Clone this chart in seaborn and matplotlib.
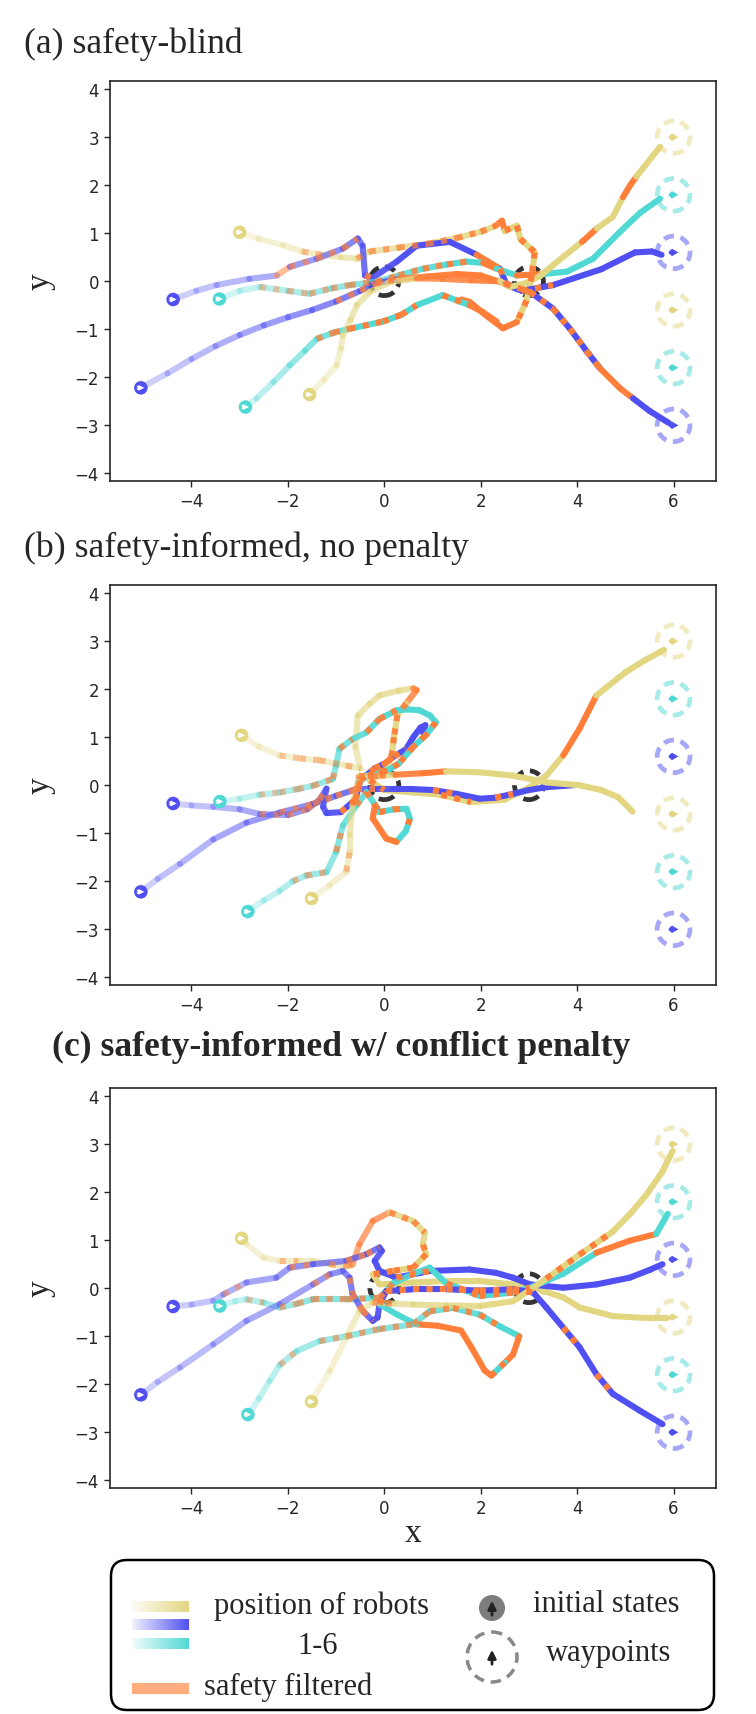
import numpy as np
import matplotlib
matplotlib.use("Agg")
import matplotlib.pyplot as plt
import seaborn as sns
from matplotlib.collections import LineCollection
from matplotlib.colors import to_rgba
from matplotlib.patches import Circle, FancyBboxPatch

# colours of the three robot types and of the safety filter
YELLOW = "#E3D681"
BLUE = "#5050F2"
CYAN = "#50D9D4"
ORANGE = "#FF7F3A"
DARK = "#333333"

# goal waypoints (x = 6) and the two shared waypoints
goal_y = [3.0, 1.8, 0.6, -0.6, -1.8, -3.0]
goal_colors = [YELLOW, CYAN, BLUE, YELLOW, CYAN, BLUE]
mid_x = [0.0, 3.0]
mid_y = [0.0, 0.0]

titles = ["(a) safety-blind", "(b) safety-informed, no penalty",
          "(c) safety-informed w/ conflict penalty"]

# trajectories: (x, y, filter) ; filter 0 = own colour, 1 = safety filtered, 2 = switching
# ---- (a) safety-blind
a_y1 = [(-3.0, 1.02, 0), (-2.6, 0.88, 0), (-2.1, 0.75, 0), (-1.7, 0.62, 2), (-1.3, 0.55, 0),
        (-0.9, 0.5, 0), (-0.57, 0.47, 2), (-0.3, 0.62, 2), (0.3, 0.7, 2), (0.9, 0.78, 2),
        (1.5, 0.9, 2), (2.0, 1.03, 2), (2.3, 1.15, 1), (2.44, 1.26, 1), (2.5, 1.05, 2),
        (2.75, 1.16, 2), (2.82, 0.88, 2), (3.02, 0.7, 2), (3.12, 0.6, 2), (3.06, 0.12, 2),
        (2.95, -0.4, 2), (2.75, -0.85, 1), (2.46, -0.98, 1), (2.12, -0.72, 1),
        (1.77, -0.43, 1), (1.6, -0.38, 1)]
a_b1 = [(-4.38, -0.38, 0), (-3.9, -0.2, 0), (-3.48, -0.08, 0), (-2.8, 0.05, 0),
        (-2.23, 0.12, 1), (-1.96, 0.3, 2), (-1.4, 0.47, 2), (-0.86, 0.68, 2), (-0.55, 0.89, 0),
        (-0.45, 0.74, 0), (-0.4, 0.12, 2), (-0.26, 0.06, 0), (0.26, 0.41, 0), (0.67, 0.74, 0),
        (1.36, 0.82, 0), (1.92, 0.55, 1), (2.4, 0.26, 2), (2.54, -0.08, 0), (2.85, -0.2, 2),
        (3.5, -0.08, 0), (4.5, 0.25, 0), (5.2, 0.6, 0), (5.55, 0.62, 0), (5.75, 0.55, 0)]
a_c1 = [(-3.42, -0.37, 0), (-3.0, -0.2, 0), (-2.58, -0.12, 2), (-2.0, -0.2, 2),
        (-1.55, -0.26, 2), (-1.1, -0.15, 2), (-0.72, -0.08, 2), (-0.16, -0.01, 2),
        (0.3, 0.12, 2), (0.8, 0.26, 2), (1.3, 0.35, 2), (1.71, 0.41, 0), (2.05, 0.38, 1),
        (2.33, 0.26, 0), (2.75, 0.12, 1), (3.3, 0.15, 0), (3.79, 0.2, 0), (4.33, 0.47, 0),
        (4.89, 1.03, 0), (5.3, 1.42, 0), (5.72, 1.72, 0)]
a_b2 = [(-5.05, -2.22, 0), (-4.5, -1.92, 0), (-4.0, -1.62, 0), (-3.5, -1.35, 0),
        (-3.0, -1.12, 0), (-2.5, -0.92, 0), (-2.0, -0.75, 0), (-1.5, -0.6, 0), (-1.0, -0.42, 2),
        (-0.5, -0.2, 2), (-0.2, -0.05, 2), (0.3, 0.05, 1), (0.9, 0.1, 1), (1.5, 0.15, 1),
        (2.0, 0.12, 1), (2.5, -0.05, 2), (3.02, -0.22, 2), (3.5, -0.57, 2), (3.85, -0.99, 2),
        (4.2, -1.46, 2), (4.47, -1.81, 1), (4.89, -2.23, 1), (5.16, -2.44, 0),
        (5.5, -2.7, 0), (5.9, -2.95, 0)]
a_c2 = [(-2.88, -2.62, 0), (-2.65, -2.44, 0), (-2.3, -2.1, 0), (-1.96, -1.75, 0),
        (-1.65, -1.45, 0), (-1.4, -1.2, 2), (-1.05, -1.07, 2), (-0.72, -0.99, 2),
        (-0.03, -0.84, 2), (0.35, -0.7, 2), (0.67, -0.5, 0), (1.21, -0.29, 2),
        (1.77, -0.5, 1), (2.04, -0.64, 1), (2.33, -0.84, 1)]
a_y2 = [(-1.55, -2.36, 0), (-1.25, -2.05, 0), (-0.99, -1.75, 0), (-0.9, -1.4, 0),
        (-0.86, -1.13, 0), (-0.7, -0.8, 0), (-0.57, -0.5, 0), (-0.3, -0.22, 0), (0.1, -0.02, 0),
        (0.67, 0.06, 1), (1.2, 0.05, 1), (1.8, 0.02, 1), (2.4, 0.0, 0), (2.6, -0.12, 0),
        (2.9, -0.05, 0), (3.22, 0.1, 0), (3.7, 0.5, 0), (4.1, 0.82, 1), (4.41, 1.1, 0),
        (4.74, 1.34, 0), (4.95, 1.75, 1), (5.1, 2.0, 1), (5.23, 2.18, 0), (5.72, 2.8, 0)]

# ---- (b) safety-informed, no penalty
b_y1 = [(-2.96, 1.04, 0), (-2.6, 0.8, 0), (-2.17, 0.62, 2), (-1.75, 0.56, 2), (-1.34, 0.52, 2),
        (-0.79, 0.41, 2), (-0.5, 0.35, 0), (-0.6, 0.8, 0), (-0.55, 1.45, 0), (-0.3, 1.7, 0),
        (-0.1, 1.87, 0), (0.3, 1.97, 0), (0.6, 2.02, 1), (0.67, 1.98, 1), (0.45, 1.7, 2),
        (0.27, 1.46, 2), (0.2, 1.0, 2), (0.15, 0.6, 2), (0.0, 0.3, 2), (-0.3, 0.1, 2),
        (0.0, -0.1, 0), (0.6, -0.15, 0), (1.18, -0.2, 2), (1.8, -0.35, 0), (2.5, -0.3, 0),
        (3.0, -0.05, 0), (3.36, 0.2, 0), (3.71, 0.62, 1), (4.05, 1.18, 1), (4.4, 1.87, 0),
        (5.0, 2.35, 0), (5.4, 2.6, 0), (5.8, 2.82, 0)]
b_b1 = [(-4.38, -0.38, 0), (-4.0, -0.42, 0), (-3.55, -0.45, 0), (-3.0, -0.5, 0),
        (-2.58, -0.6, 2), (-2.0, -0.62, 2), (-1.6, -0.5, 2), (-1.34, -0.3, 2), (-1.2, -0.07, 0),
        (-1.27, -0.45, 0), (-1.2, -0.58, 0), (-0.9, -0.56, 2), (-0.6, -0.3, 2), (-0.5, 0.1, 2),
        (-0.2, 0.35, 2), (0.0, 0.45, 1), (0.2, 0.6, 2), (0.45, 0.75, 0), (0.6, 1.0, 0),
        (0.75, 1.2, 0), (0.85, 1.25, 0), (0.8, 1.1, 0)]
b_c1 = [(-3.41, -0.34, 0), (-3.0, -0.28, 0), (-2.6, -0.2, 2), (-2.17, -0.15, 2),
        (-1.8, -0.08, 2), (-1.48, -0.01, 2), (-1.07, 0.13, 2), (-1.0, 0.41, 0), (-0.93, 0.76, 2),
        (-0.66, 0.96, 0), (-0.37, 1.1, 2), (-0.1, 1.38, 2), (0.25, 1.56, 0), (0.5, 1.58, 0),
        (0.73, 1.56, 0), (0.95, 1.45, 0), (1.07, 1.31, 2), (0.86, 1.04, 2), (0.6, 0.8, 2),
        (0.3, 0.45, 2), (0.05, 0.3, 2), (-0.35, 0.2, 0), (-0.55, 0.05, 0)]
b_b2 = [(-5.05, -2.22, 0), (-4.7, -1.95, 0), (-4.24, -1.64, 0), (-3.55, -1.13, 0),
        (-2.86, -0.78, 0), (-2.17, -0.57, 2), (-1.48, -0.39, 2), (-1.0, -0.22, 2),
        (-0.58, -0.08, 2), (-0.2, -0.08, 0), (0.18, -0.08, 0), (0.6, -0.08, 0), (1.01, -0.1, 2),
        (1.5, -0.18, 0), (1.98, -0.28, 0), (2.3, -0.26, 2), (2.67, -0.18, 0), (3.0, -0.1, 0),
        (3.36, -0.04, 0), (3.91, 0.0, 0)]
b_c2 = [(-2.83, -2.63, 0), (-2.5, -2.4, 0), (-2.17, -2.2, 0), (-1.9, -2.0, 2),
        (-1.62, -1.88, 2), (-1.2, -1.81, 0), (-1.0, -1.39, 2), (-0.86, -0.84, 0),
        (-0.58, -0.42, 2), (-0.37, -0.14, 2), (-0.2, -0.4, 2), (-0.1, -0.56, 2), (0.2, -0.5, 2),
        (0.46, -0.49, 0), (0.53, -0.7, 2), (0.45, -0.95, 0), (0.25, -1.18, 1), (0.04, -1.11, 1),
        (-0.1, -0.9, 1), (-0.24, -0.69, 1), (-0.2, -0.45, 2)]
b_y2 = [(-1.51, -2.36, 0), (-1.13, -2.08, 0), (-0.79, -1.8, 2), (-0.72, -1.4, 0),
        (-0.72, -1.04, 0), (-0.66, -0.42, 2), (-0.52, 0.2, 2), (-0.1, 0.2, 2), (0.25, 0.22, 1),
        (0.8, 0.25, 1), (1.28, 0.29, 0), (1.98, 0.27, 0), (2.67, 0.2, 0), (3.36, 0.06, 0),
        (4.05, 0.0, 0), (4.5, -0.1, 0), (4.85, -0.25, 0), (5.15, -0.55, 0)]

# ---- (c) safety-informed w/ conflict penalty
c_y1 = [(-2.96, 1.04, 0), (-2.86, 0.92, 0), (-2.51, 0.64, 0), (-2.17, 0.57, 2), (-1.8, 0.57, 0),
        (-1.48, 0.57, 0), (-1.13, 0.5, 2), (-0.79, 0.46, 2), (-0.66, 0.49, 1), (-0.52, 0.91, 1),
        (-0.24, 1.4, 1), (0.11, 1.58, 2), (0.6, 1.4, 2), (0.84, 1.16, 0), (0.8, 0.91, 2),
        (0.87, 0.71, 2), (0.6, 0.43, 2), (0.18, 0.36, 2), (-0.24, 0.29, 0), (-0.1, 0.08, 0),
        (0.6, 0.12, 0), (1.29, 0.15, 0), (1.98, 0.15, 0), (2.67, 0.08, 0), (3.09, 0.01, 0),
        (3.71, -0.19, 0), (4.05, -0.4, 0), (4.74, -0.58, 0), (5.43, -0.62, 0), (5.87, -0.62, 0)]
c_b1 = [(-4.38, -0.38, 0), (-4.0, -0.34, 0), (-3.55, -0.26, 0), (-3.34, -0.13, 2),
        (-2.86, 0.12, 0), (-2.24, 0.22, 0), (-1.96, 0.43, 2), (-1.48, 0.5, 0), (-0.79, 0.57, 2),
        (-0.37, 0.71, 2), (-0.1, 0.85, 0), (-0.05, 0.78, 0), (-0.2, 0.57, 0), (-0.1, 0.36, 0),
        (0.25, 0.22, 2), (0.94, 0.36, 0), (1.77, 0.39, 0), (2.32, 0.32, 0), (2.67, 0.22, 0),
        (3.02, 0.08, 0), (3.71, 0.01, 0), (4.4, 0.08, 0), (5.09, 0.22, 0), (5.5, 0.38, 0),
        (5.77, 0.5, 0)]
c_c1 = [(-3.41, -0.37, 0), (-3.1, -0.27, 0), (-2.86, -0.23, 2), (-2.5, -0.3, 0),
        (-2.17, -0.4, 2), (-1.8, -0.32, 2), (-1.48, -0.23, 2), (-0.79, -0.23, 2),
        (-0.1, -0.2, 2), (0.18, 0.1, 0), (0.6, 0.3, 0), (0.94, 0.43, 0), (1.29, 0.1, 2),
        (1.98, -0.16, 2), (2.67, -0.09, 2), (3.02, 0.01, 0), (3.71, 0.3, 0), (4.4, 0.74, 1),
        (5.09, 0.99, 1), (5.64, 1.13, 0), (5.88, 1.55, 0)]
c_b2 = [(-5.05, -2.22, 0), (-4.7, -1.95, 0), (-4.24, -1.65, 0), (-3.55, -1.17, 0),
        (-2.86, -0.68, 0), (-2.17, -0.33, 0), (-1.48, 0.08, 2), (-1.13, 0.29, 0),
        (-0.86, 0.36, 0), (-0.72, 0.22, 2), (-0.66, -0.12, 2), (-0.45, -0.47, 2),
        (-0.24, -0.68, 0), (-0.14, -0.61, 0), (-0.1, -0.33, 2), (0.04, -0.06, 2),
        (0.6, -0.02, 2), (1.29, -0.02, 2), (1.98, -0.05, 2), (2.67, -0.02, 2), (3.09, -0.09, 0),
        (3.36, -0.4, 0), (3.71, -0.82, 2), (4.05, -1.23, 0), (4.4, -1.79, 2), (4.74, -2.2, 0),
        (5.3, -2.55, 0), (5.77, -2.83, 0)]
c_c2 = [(-2.83, -2.63, 0), (-2.6, -2.3, 0), (-2.38, -1.93, 0), (-2.17, -1.6, 2),
        (-1.82, -1.31, 0), (-1.34, -1.1, 2), (-0.79, -1.0, 2), (-0.1, -0.85, 2), (0.6, -0.75, 2),
        (0.94, -0.48, 2), (1.42, -0.41, 2), (1.98, -0.55, 2), (2.39, -0.79, 0), (2.8, -1.0, 1),
        (2.67, -1.38, 1), (2.5, -1.55, 2), (2.22, -1.82, 1), (2.08, -1.71, 1), (1.8, -1.22, 1),
        (1.59, -0.88, 1), (1.1, -0.78, 1), (0.66, -0.75, 0), (0.25, -0.54, 0), (-0.1, -0.33, 0)]
c_y2 = [(-1.51, -2.36, 0), (-1.13, -1.72, 0), (-0.79, -1.03, 0), (-0.52, -0.48, 0),
        (-0.25, -0.3, 2), (0.2, -0.32, 0), (0.6, -0.34, 0), (1.3, -0.36, 0), (1.98, -0.37, 0),
        (2.67, -0.27, 0), (3.0, -0.05, 0), (3.36, 0.2, 2), (4.05, 0.7, 2), (4.74, 1.18, 0),
        (5.1, 1.55, 0), (5.43, 1.94, 0), (5.77, 2.43, 0), (5.98, 2.86, 0)]

panels = [
    [(a_y1, YELLOW), (a_b1, BLUE), (a_c1, CYAN), (a_b2, BLUE), (a_c2, CYAN), (a_y2, YELLOW)],
    [(b_y1, YELLOW), (b_b1, BLUE), (b_c1, CYAN), (b_b2, BLUE), (b_c2, CYAN), (b_y2, YELLOW)],
    [(c_y1, YELLOW), (c_b1, BLUE), (c_c1, CYAN), (c_b2, BLUE), (c_c2, CYAN), (c_y2, YELLOW)],
]

sns.set_style("ticks")
plt.rcParams["font.family"] = ["DejaVu Sans"]
SERIF = ["Liberation Serif", "DejaVu Serif"]
LW = 4.4


def draw_traj(ax, pts, color):
    arr = np.array(pts, dtype=float)
    xy = arr[:, :2]
    flag = arr[:, 2].astype(int)
    n = len(arr) - 1
    t = np.arange(n) / max(n - 1, 1)
    alpha = 0.28 + 0.72 * np.clip(t / 0.55, 0, 1)
    segs = np.stack([xy[:-1], xy[1:]], axis=1)
    base = [to_rgba(ORANGE if flag[i] == 1 else color, alpha[i]) for i in range(n)]
    ax.add_collection(LineCollection(segs, colors=base, linewidths=LW,
                                     capstyle="round", joinstyle="round", zorder=3))
    mix = [i for i in range(n) if flag[i] == 2]
    if mix:
        ax.add_collection(LineCollection(segs[mix], colors=[to_rgba(ORANGE, alpha[i]) for i in mix],
                                         linewidths=LW, linestyles=[(0, (1.0, 1.2))],
                                         capstyle="butt", zorder=3.1))


fig = plt.figure(figsize=(7.56, 17.15), dpi=100)
W, H = 756, 1715
ax_tops = [82, 586, 1089]
title_pos = [(24, 44), (24, 548), (52, 1047)]

for k, trajs in enumerate(panels):
    ax = fig.add_axes([110 / W, 1 - (ax_tops[k] + 400) / H, 606 / W, 400 / H])
    ax.set_xlim(-5.69, 6.88)
    ax.set_ylim(-4.16, 4.17)

    # shared waypoints
    for x0, y0 in zip(mid_x, mid_y):
        ax.add_patch(Circle((x0, y0), 0.3, fill=False, ec=DARK, lw=3.4,
                            ls=(0, (2.2, 1.4)), zorder=2))
    ax.quiver(mid_x, mid_y, [1, 1], [0, 0], color="white", pivot="middle", angles="xy",
              scale_units="xy", scale=6, width=0.004, headwidth=3, headlength=3, zorder=2.5)

    # goal waypoints
    for gy, gc in zip(goal_y, goal_colors):
        ax.add_patch(Circle((6.0, gy), 0.34, fill=False, ec=to_rgba(gc, 0.5), lw=3.4,
                            ls=(0, (2.2, 1.4)), zorder=2))
    ax.quiver([6.0] * 6, goal_y, [1] * 6, [0] * 6, color=goal_colors, pivot="middle",
              angles="xy", scale_units="xy", scale=5, width=0.0035, headwidth=3.5,
              headlength=3, zorder=2.5)

    for pts, col in trajs:
        draw_traj(ax, pts, col)

    sx = [p[0][0] for p, _ in trajs]
    sy = [p[0][1] for p, _ in trajs]
    sc = [c for _, c in trajs]
    sns.scatterplot(x=sx, y=sy, hue=list(range(6)), palette=sc, s=95, edgecolor="none",
                    legend=False, ax=ax, zorder=4)
    ax.quiver(sx, sy, [1] * 6, [0] * 6, color="white", pivot="middle", angles="xy",
              scale_units="xy", scale=7, width=0.003, headwidth=3, headlength=3, zorder=5)

    ax.set_xticks([-4, -2, 0, 2, 4, 6])
    ax.set_yticks([-4, -3, -2, -1, 0, 1, 2, 3, 4])
    ax.tick_params(labelsize=12, length=4.5, width=1.0)
    for s in ax.spines.values():
        s.set_linewidth(1.2)
    ax.set_ylabel("y", fontsize=24, family=SERIF)
    ax.yaxis.set_label_coords(-0.09, 0.5)
    if k == 2:
        ax.set_xlabel("x", fontsize=24, family=SERIF, labelpad=0)

    tx, ty = title_pos[k]
    fig.text(tx / W, 1 - ty / H, titles[k], fontsize=25.7, family=SERIF, va="center",
             weight="bold" if k == 2 else "normal")

# legend panel, drawn in pixel units
lg = fig.add_axes([109 / W, 1 - 1714 / H, 608 / W, 155 / H])
lg.set_xlim(0, 608)
lg.set_ylim(155, 0)
lg.axis("off")
lg.add_patch(FancyBboxPatch((2, 2), 603, 150, boxstyle="round,pad=0,rounding_size=16",
                            fc="white", ec="black", lw=1.8, zorder=0))
for (y0, col) in [(43, YELLOW), (61, BLUE), (80, CYAN)]:
    grad = np.zeros((1, 64, 4))
    grad[0, :, :3] = to_rgba(col)[:3]
    grad[0, :, 3] = np.linspace(0.08, 1.0, 64)
    lg.imshow(grad, extent=(23, 80, y0 + 11, y0), aspect="auto", interpolation="bilinear",
              zorder=2)
grad = np.zeros((1, 2, 4))
grad[0, :, :3] = to_rgba(ORANGE)[:3]
grad[0, :, 3] = 0.65
lg.imshow(grad, extent=(23, 80, 136, 125), aspect="auto", zorder=2)
lg.set_xlim(0, 608)
lg.set_ylim(155, 0)
lg.text(213, 47, "position of robots", fontsize=22, family=SERIF, ha="center", va="center")
lg.text(209, 88, "1-6", fontsize=22, family=SERIF, ha="center", va="center")
lg.text(95, 128, "safety filtered", fontsize=22, family=SERIF, ha="left", va="center")
lg.add_patch(Circle((383, 50), 13, fc="#666666", ec="none", alpha=0.85, zorder=2))
lg.annotate("", xy=(383, 40), xytext=(383, 60),
            arrowprops=dict(arrowstyle="-|>", color="#222222", lw=2, mutation_scale=12))
lg.add_patch(Circle((383, 99), 25, fill=False, ec="#888888", lw=2.5, ls=(0, (3, 2)), zorder=2))
lg.annotate("", xy=(383, 89), xytext=(383, 109),
            arrowprops=dict(arrowstyle="-|>", color="#222222", lw=2, mutation_scale=12))
lg.text(424, 46, "initial states", fontsize=22, family=SERIF, ha="left", va="center")
lg.text(437, 95, "waypoints", fontsize=22, family=SERIF, ha="left", va="center")

fig.savefig("out.png", dpi=100)
